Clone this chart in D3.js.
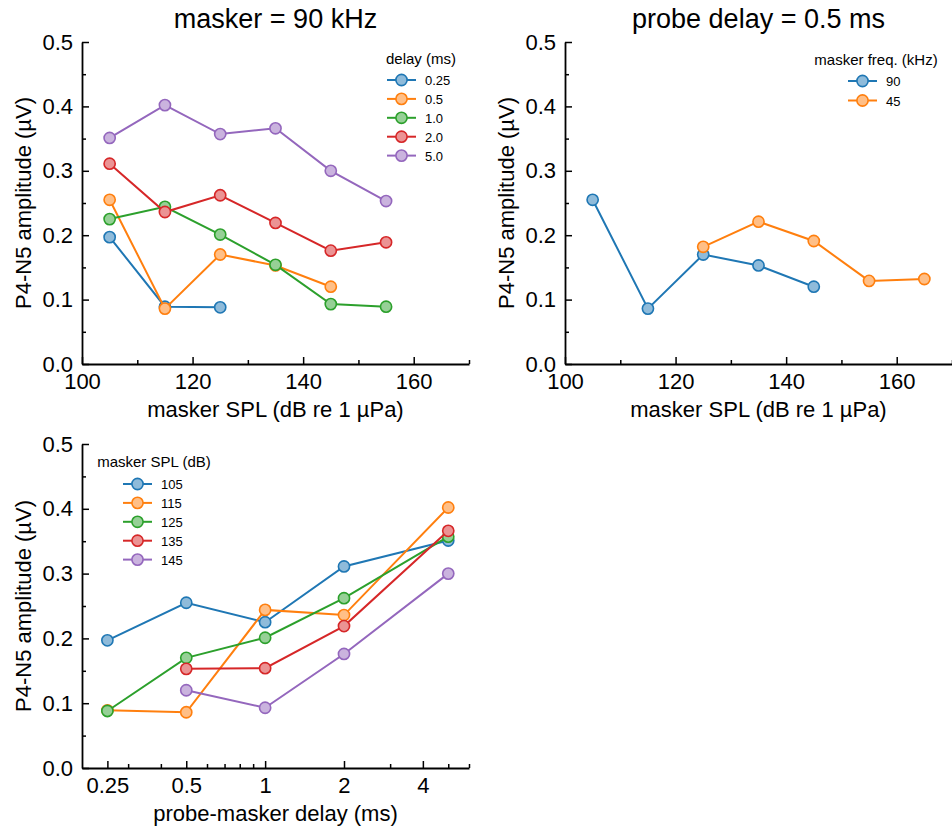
<!DOCTYPE html>
<html>
<head>
<meta charset="utf-8" />
<title>P4-N5 amplitude</title>
<script src="https://cdn.jsdelivr.net/npm/d3@7"></script>
<style>
  body { margin: 0; background: #fff; }
  text { font-family: "Liberation Sans", Arial, sans-serif; fill: #000; }
</style>
</head>
<body>
<script>

// ---- data ----
var maskerSpl = [105, 115, 125, 135, 145, 155];
var delayLabels = ["0.25", "0.5", "1.0", "2.0", "5.0"];
var delayValues = [0.25, 0.5, 1, 2, 5];

// amplitude (uV) at each masker SPL, one array per probe delay (masker 90 kHz)
var ampDelay025 = [0.197, 0.089, 0.088, null, null, null];
var ampDelay05  = [0.255, 0.086, 0.170, 0.153, 0.120, null];
var ampDelay1   = [0.225, 0.244, 0.201, 0.154, 0.093, 0.089];
var ampDelay2   = [0.311, 0.236, 0.262, 0.219, 0.176, 0.189];
var ampDelay5   = [0.351, 0.402, 0.357, 0.366, 0.300, 0.253];

// probe delay 0.5 ms, two masker frequencies
var freqLabels = ["90", "45"];
var spl90 = [105, 115, 125, 135, 145];
var amp90 = [0.255, 0.086, 0.170, 0.153, 0.120];
var spl45 = [125, 135, 145, 155, 165];
var amp45 = [0.182, 0.221, 0.191, 0.129, 0.132];

// bottom panel legend
var splLabels = ["105", "115", "125", "135", "145"];

// axes ticks
var ampTicks = [0, 0.1, 0.2, 0.3, 0.4, 0.5];
var ampMinor = [0.05, 0.15, 0.25, 0.35, 0.45];
var splTicks = [100, 120, 140, 160];
var splMinor = [110, 130, 150, 170];
var delayTicks = [0.25, 0.5, 1, 2, 4];
var delayTickLabels = ["0.25", "0.5", "1", "2", "4"];
var delayMinor = [0.3, 0.4, 0.6, 0.7, 0.8, 0.9, 3, 5, 6];

var colors = ["#1f77b4", "#ff7f0e", "#2ca02c", "#d62728", "#9467bd"];
function light(c) { return d3.interpolateRgb(c, "#ffffff")(0.5); }

var svg = d3.select("body").append("svg")
    .attr("width", 952)
    .attr("height", 831);

function drawPanel(p) {
  var g = svg.append("g");
  var x = p.x, y = p.y;

  // series
  p.series.forEach(function(s, i) {
    var pts = s.xs.map(function(v, j) { return {x: v, y: s.ys[j]}; })
        .filter(function(d) { return d.y != null; });
    var sg = g.append("g");
    sg.append("path")
      .datum(pts)
      .attr("fill", "none")
      .attr("stroke", s.color)
      .attr("stroke-width", 2)
      .attr("d", d3.line().x(function(d) { return x(d.x); }).y(function(d) { return y(d.y); }));
    sg.selectAll("circle")
      .data(pts)
      .enter()
      .append("circle")
      .attr("cx", function(d) { return x(d.x); })
      .attr("cy", function(d) { return y(d.y); })
      .attr("r", 5.6)
      .attr("fill", light(s.color))
      .attr("stroke", s.color)
      .attr("stroke-width", 1.6);
  });

  // axes
  var bottom = y.range()[0], left = x.range()[0], right = x.range()[1], top = y.range()[1];

  var xa = g.append("g").attr("transform", "translate(0," + bottom + ")")
    .call(d3.axisBottom(x).tickValues(p.xTicks).tickFormat(p.xFormat)
      .tickSizeInner(-7).tickSizeOuter(0).tickPadding(9));
  g.append("g").attr("transform", "translate(0," + bottom + ")")
    .call(d3.axisBottom(x).tickValues(p.xMinor).tickFormat("")
      .tickSizeInner(-4).tickSizeOuter(0))
    .select(".domain").remove();

  var ya = g.append("g").attr("transform", "translate(" + left + ",0)")
    .call(d3.axisLeft(y).tickValues(ampTicks).tickFormat(d3.format(".1f"))
      .tickSizeInner(-7).tickSizeOuter(0).tickPadding(9));
  g.append("g").attr("transform", "translate(" + left + ",0)")
    .call(d3.axisLeft(y).tickValues(ampMinor).tickFormat("")
      .tickSizeInner(-4).tickSizeOuter(0))
    .select(".domain").remove();

  g.selectAll(".domain").attr("stroke-width", 1.8);
  g.selectAll(".tick line").attr("stroke-width", 1.5);
  xa.selectAll("text").attr("font-size", "22px").attr("font-family", "Liberation Sans, Arial, sans-serif");
  ya.selectAll("text").attr("font-size", "22px").attr("font-family", "Liberation Sans, Arial, sans-serif");

  // labels
  if (p.title) {
    g.append("text")
      .attr("x", (left + right) / 2)
      .attr("y", top - 14)
      .attr("text-anchor", "middle")
      .attr("font-size", "27px")
      .text(p.title);
  }
  g.append("text")
    .attr("x", (left + right) / 2)
    .attr("y", bottom + 53)
    .attr("text-anchor", "middle")
    .attr("font-size", "22px")
    .text(p.xLabel);
  g.append("text")
    .attr("transform", "translate(" + (left - 51) + "," + ((top + bottom) / 2) + ") rotate(-90)")
    .attr("text-anchor", "middle")
    .attr("font-size", "22px")
    .text("P4-N5 amplitude (\u00b5V)");

  // legend
  var L = p.legend;
  var lg = g.append("g");
  lg.append("text")
    .attr("x", L.titleX)
    .attr("y", top + L.titleDy)
    .attr("text-anchor", "middle")
    .attr("font-size", "15px")
    .text(L.title);
  p.series.forEach(function(s, i) {
    var ry = top + L.rowDy + i * L.step;
    lg.append("line")
      .attr("x1", L.lineX).attr("x2", L.lineX + 29)
      .attr("y1", ry).attr("y2", ry)
      .attr("stroke", s.color).attr("stroke-width", 2);
    lg.append("circle")
      .attr("cx", L.lineX + 14.5).attr("cy", ry).attr("r", 5.6)
      .attr("fill", light(s.color)).attr("stroke", s.color).attr("stroke-width", 1.6);
    lg.append("text")
      .attr("x", L.lineX + 38)
      .attr("y", ry + 5)
      .attr("font-size", "13px")
      .text(s.label);
  });
}

// panel 1: masker = 90 kHz
var delaySeries = [ampDelay025, ampDelay05, ampDelay1, ampDelay2, ampDelay5];
drawPanel({
  x: d3.scaleLinear().domain([100, 170]).range([82, 469]),
  y: d3.scaleLinear().domain([0, 0.5]).range([364, 42]),
  xTicks: splTicks, xMinor: splMinor, xFormat: d3.format("d"),
  title: "masker = 90 kHz",
  xLabel: "masker SPL (dB re 1 \u00b5Pa)",
  series: delaySeries.map(function(a, i) {
    return {xs: maskerSpl, ys: a, color: colors[i], label: delayLabels[i]};
  }),
  legend: {title: "delay (ms)", titleX: 421, titleDy: 22, lineX: 387, rowDy: 38, step: 18.9}
});

// panel 2: probe delay = 0.5 ms
drawPanel({
  x: d3.scaleLinear().domain([100, 170]).range([565, 952]),
  y: d3.scaleLinear().domain([0, 0.5]).range([364, 42]),
  xTicks: splTicks, xMinor: splMinor, xFormat: d3.format("d"),
  title: "probe delay = 0.5 ms",
  xLabel: "masker SPL (dB re 1 \u00b5Pa)",
  series: [
    {xs: spl90, ys: amp90, color: colors[0], label: freqLabels[0]},
    {xs: spl45, ys: amp45, color: colors[1], label: freqLabels[1]}
  ],
  legend: {title: "masker freq. (kHz)", titleX: 876, titleDy: 23, lineX: 848, rowDy: 39, step: 19.5}
});

// panel 3: amplitude vs probe-masker delay, one line per masker SPL
drawPanel({
  x: d3.scaleLog().domain([0.2, 6]).range([82, 469]),
  y: d3.scaleLinear().domain([0, 0.5]).range([768, 444]),
  xTicks: delayTicks, xMinor: delayMinor,
  xFormat: function(d) { return delayTickLabels[delayTicks.indexOf(d)]; },
  title: null,
  xLabel: "probe-masker delay (ms)",
  series: splLabels.map(function(lab, i) {
    return {xs: delayValues, ys: delaySeries.map(function(a) { return a[i]; }), color: colors[i], label: lab};
  }),
  legend: {title: "masker SPL (dB)", titleX: 154, titleDy: 23, lineX: 123, rowDy: 40, step: 18.9}
});

</script>
</body>
</html>
